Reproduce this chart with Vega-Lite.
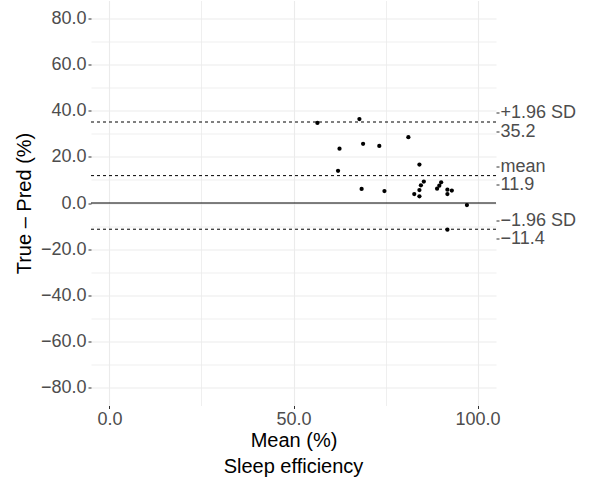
{
  "$schema": "https://vega.github.io/schema/vega-lite/v6.json",
  "width": 405,
  "height": 405,
  "autosize": {"type": "none"},
  "padding": {"left": 91, "top": 0.5, "right": 94, "bottom": 79.5},
  "background": "white",
  "title": {
    "text": "Sleep efficiency",
    "orient": "bottom",
    "anchor": "middle",
    "fontSize": 20,
    "fontWeight": "normal",
    "color": "black",
    "font": "Liberation Sans",
    "offset": 6
  },
  "datasets": {
    "pairs": [
      {"mean": 56.5, "diff": 34.8},
      {"mean": 67.9, "diff": 36.5},
      {"mean": 62.5, "diff": 23.6},
      {"mean": 68.9, "diff": 25.7},
      {"mean": 73.3, "diff": 24.8},
      {"mean": 81.2, "diff": 28.6},
      {"mean": 62.1, "diff": 14.0},
      {"mean": 84.2, "diff": 16.7},
      {"mean": 68.5, "diff": 6.1},
      {"mean": 74.7, "diff": 5.2},
      {"mean": 82.8, "diff": 3.9},
      {"mean": 84.2, "diff": 2.9},
      {"mean": 84.2, "diff": 5.6},
      {"mean": 84.6, "diff": 7.7},
      {"mean": 85.4, "diff": 9.3},
      {"mean": 89.0, "diff": 6.2},
      {"mean": 89.6, "diff": 7.5},
      {"mean": 90.1, "diff": 9.0},
      {"mean": 91.8, "diff": 5.8},
      {"mean": 91.8, "diff": 3.9},
      {"mean": 93.0, "diff": 5.4},
      {"mean": 97.1, "diff": -0.9},
      {"mean": 91.8, "diff": -11.6}
    ],
    "limits": [
      {"stat": "+1.96 SD", "value": 35.2},
      {"stat": "mean", "value": 11.9},
      {"stat": "-1.96 SD", "value": -11.4}
    ],
    "zero": [{"value": 0}]
  },
  "layer": [
    {
      "data": {"name": "limits"},
      "mark": {"type": "rule", "color": "black", "strokeWidth": 1, "strokeDash": [3, 3]},
      "encoding": {
        "y": {
          "field": "value",
          "type": "quantitative",
          "scale": {"domain": [-88, 88], "nice": false, "zero": false},
          "axis": {
            "orient": "right",
            "title": null,
            "grid": false,
            "domain": false,
            "values": [39.2, 31.2, 15.9, 7.9, -7.4, -15.4],
            "labelExpr": "datum.value > 35 ? '+1.96 SD' : datum.value > 30 ? '35.2' : datum.value > 12 ? 'mean' : datum.value > 0 ? '11.9' : datum.value > -10 ? '−1.96 SD' : '−11.4'",
            "labelFontSize": 18,
            "labelFont": "Liberation Sans",
            "labelColor": "#4D4D4D",
            "labelPadding": 1,
            "tickColor": "#333333",
            "tickSize": 3,
            "tickWidth": 1
          }
        }
      }
    },
    {
      "data": {"name": "zero"},
      "mark": {"type": "rule", "color": "black", "strokeWidth": 1.1},
      "encoding": {
        "y": {"field": "value", "type": "quantitative", "scale": {"domain": [-88, 88], "nice": false, "zero": false}, "axis": null}
      }
    },
    {
      "data": {"name": "pairs"},
      "mark": {"type": "circle", "color": "black", "opacity": 1, "size": 18},
      "encoding": {
        "x": {
          "field": "mean",
          "type": "quantitative",
          "scale": {"domain": [-5, 105], "nice": false, "zero": false},
          "axis": {
            "title": "Mean (%)",
            "values": [0, 25, 50, 75, 100],
            "labelExpr": "datum.value % 50 == 0 ? format(datum.value, '.1f') : ''",
            "domain": false,
            "grid": true,
            "gridColor": "#EBEBEB",
            "gridWidth": {"condition": {"test": "datum.value % 50 != 0", "value": 0.8}, "value": 1.1},
            "tickColor": "#333333",
            "tickSize": 3,
            "tickWidth": 1,
            "tickOpacity": {"condition": {"test": "datum.value % 50 != 0", "value": 0}, "value": 1},
            "labelFontSize": 18,
            "labelFont": "Liberation Sans",
            "labelColor": "#4D4D4D",
            "labelPadding": 2,
            "titleFontSize": 20,
            "titleFont": "Liberation Sans",
            "titleFontWeight": "normal",
            "titleColor": "black",
            "titlePadding": 2
          }
        },
        "y": {
          "field": "diff",
          "type": "quantitative",
          "scale": {"domain": [-88, 88], "nice": false, "zero": false},
          "axis": {
            "orient": "left",
            "title": "True – Pred (%)",
            "values": [-80, -70, -60, -50, -40, -30, -20, -10, 0, 10, 20, 30, 40, 50, 60, 70, 80],
            "labelExpr": "datum.value % 20 == 0 ? replace(format(datum.value, '.1f'), '-', '−') : ''",
            "domain": false,
            "grid": true,
            "gridColor": "#EBEBEB",
            "gridWidth": {"condition": {"test": "datum.value % 20 != 0", "value": 0.8}, "value": 1.1},
            "tickColor": "#333333",
            "tickSize": 3,
            "tickWidth": 1,
            "tickOpacity": {"condition": {"test": "datum.value % 20 != 0", "value": 0}, "value": 1},
            "labelFontSize": 18,
            "labelFont": "Liberation Sans",
            "labelColor": "#4D4D4D",
            "labelPadding": 2,
            "titleFontSize": 20,
            "titleFont": "Liberation Sans",
            "titleFontWeight": "normal",
            "titleColor": "black",
            "titlePadding": 6
          }
        }
      }
    }
  ],
  "resolve": {"axis": {"y": "independent"}},
  "config": {"view": {"stroke": null}}
}
